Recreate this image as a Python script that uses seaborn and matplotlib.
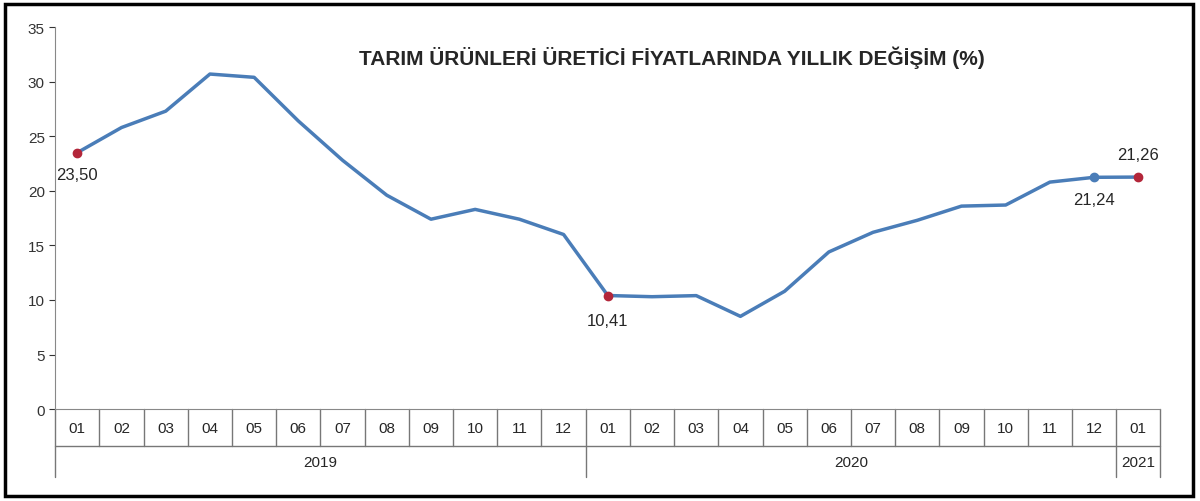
import matplotlib
matplotlib.use("Agg")
import matplotlib.pyplot as plt
import seaborn as sns
import pandas as pd
import numpy as np
from matplotlib.transforms import blended_transform_factory

months = ["01","02","03","04","05","06","07","08","09","10","11","12",
          "01","02","03","04","05","06","07","08","09","10","11","12","01"]
years = ["2019"]*12 + ["2020"]*12 + ["2021"]
values = [23.50,25.8,27.3,30.7,30.4,26.4,22.8,19.6,17.4,18.3,17.4,16.0,
          10.41,10.3,10.4,8.5,10.8,14.4,16.2,17.3,18.6,18.7,20.8,21.24,21.26]
title = "TARIM ÜRÜNLERİ ÜRETİCİ FİYATLARINDA YILLIK DEĞİŞİM (%)"

sns.set_style("white")
plt.rcParams['font.family'] = ['Liberation Sans', 'DejaVu Sans']
df = pd.DataFrame({"x": np.arange(len(values)), "v": values})

fig = plt.figure(figsize=(12, 5.02), dpi=100)
ax = fig.add_axes([0.046, 0.183, 0.921, 0.761])
sns.lineplot(data=df, x="x", y="v", ax=ax, color="#4a7db8", linewidth=2.5)
red = "#b3263a"
for i in [0, 12, 24]:
    ax.plot(df.x[i], df.v[i], "o", color=red, ms=6, zorder=5)
ax.plot(df.x[23], df.v[23], "o", color="#4a7db8", ms=6, zorder=5)
fmt = lambda v: f"{v:.2f}".replace(".", ",")
ax.annotate(fmt(values[0]), (0, values[0]), xytext=(0, -16), textcoords="offset points", ha="center", va="center", fontsize=12)
ax.annotate(fmt(values[12]), (12, values[12]), xytext=(0, -18), textcoords="offset points", ha="center", va="center", fontsize=12)
ax.annotate(fmt(values[23]), (23, values[23]), xytext=(0, -16), textcoords="offset points", ha="center", va="center", fontsize=12)
ax.annotate(fmt(values[24]), (24, values[24]), xytext=(0, 16), textcoords="offset points", ha="center", va="center", fontsize=12)

ax.set_xlim(-0.5, 24.5)
ax.set_ylim(0, 35)
ax.set_yticks(range(0, 36, 5))
ax.tick_params(axis="y", labelsize=11, colors="#333333", left=True, length=4)
ax.set_xticks([])
ax.set_xlabel(""); ax.set_ylabel("")
for s in ["top", "right"]:
    ax.spines[s].set_visible(False)
for s in ["left", "bottom"]:
    ax.spines[s].set_color("#888888")

tr = blended_transform_factory(ax.transData, ax.transAxes)
mb, yb = -0.097, -0.178
lc = "#777777"
for i, m in enumerate(months):
    ax.text(i, mb / 2, m, transform=tr, ha="center", va="center", fontsize=11)
for b in np.arange(-0.5, 25, 1):
    bottom = yb if b in (-0.5, 11.5, 23.5, 24.5) else mb
    ax.plot([b, b], [0, bottom], transform=tr, color=lc, lw=1, clip_on=False)
ax.plot([-0.5, 24.5], [mb, mb], transform=tr, color=lc, lw=1, clip_on=False)
for yr, c in [("2019", 5.5), ("2020", 17.5), ("2021", 24)]:
    ax.text(c, (mb + yb) / 2, yr, transform=tr, ha="center", va="center", fontsize=11)

fig.text(0.56, 0.885, title, ha="center", va="center", fontsize=15, fontweight="bold")
fig.patches.append(plt.Rectangle((0.004, 0.01), 0.99, 0.98, transform=fig.transFigure,
                                 fill=False, edgecolor="black", lw=2.5))
fig.savefig("out.png", dpi=100)
